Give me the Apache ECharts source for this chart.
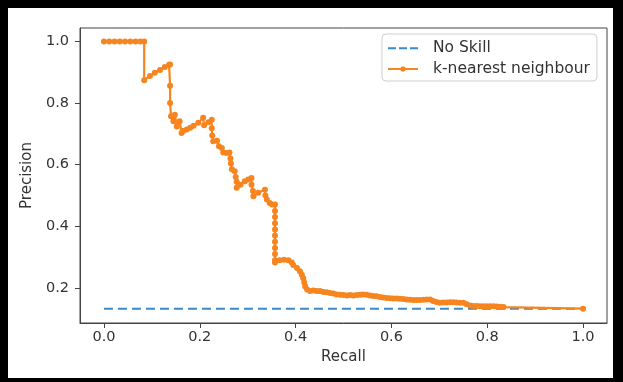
<!DOCTYPE html>
<html>
<head>
<meta charset="utf-8">
<script src="https://cdn.jsdelivr.net/npm/echarts@6/dist/echarts.min.js"></script>
<style>
html,body{margin:0;padding:0;background:#fff;}
#chart{width:623px;height:382px;}
</style>
</head>
<body>
<div id="chart"></div>
<script>
// ---- data ----
const seriesNames = ['No Skill', 'k-nearest neighbour'];

const noSkillRecall = [0, 1];
const noSkillPrecision = [0.133, 0.133];

const knnRecall = [
  0, 0.011, 0.022, 0.033, 0.044, 0.055, 0.066, 0.076, 0.084,
  0.084, 0.096, 0.106, 0.117, 0.127, 0.136,
  0.138, 0.138, 0.138, 0.14, 0.145, 0.148, 0.152, 0.158, 0.162, 0.166, 0.173, 0.18, 0.187, 0.197, 0.207,
  0.209, 0.218, 0.225, 0.225, 0.226, 0.228, 0.236, 0.24, 0.246, 0.249, 0.256, 0.262, 0.264, 0.265, 0.267,
  0.273, 0.275, 0.277, 0.277, 0.285, 0.294, 0.301, 0.308, 0.308, 0.311, 0.312, 0.322, 0.336, 0.337, 0.34,
  0.346, 0.351, 0.357,
  0.357, 0.357, 0.357, 0.357, 0.357, 0.357, 0.357, 0.357, 0.357, 0.357,
  0.367, 0.376, 0.385, 0.392, 0.395, 0.403, 0.409, 0.413, 0.416, 0.418, 0.42, 0.424, 0.43,
  0.437, 0.444, 0.451, 0.458, 0.465, 0.472, 0.479, 0.486, 0.493, 0.5, 0.507, 0.514, 0.521, 0.528,
  0.535, 0.541, 0.548, 0.555, 0.562, 0.569, 0.576, 0.583, 0.59, 0.597, 0.604, 0.611, 0.618, 0.625,
  0.632, 0.639, 0.646, 0.653, 0.66, 0.667, 0.674, 0.681, 0.687, 0.694, 0.701, 0.708, 0.715, 0.722,
  0.729, 0.736, 0.743, 0.75, 0.757, 0.764, 0.771, 0.778, 0.785, 0.792, 0.799, 0.806, 0.813, 0.82,
  0.827, 0.834, 1.0
];
const knnPrecision = [
  1, 1, 1, 1, 1, 1, 1, 1, 1,
  0.874, 0.888, 0.898, 0.907, 0.917, 0.924,
  0.925, 0.856, 0.8, 0.757, 0.741, 0.762, 0.724, 0.741, 0.703, 0.71, 0.714, 0.72, 0.726, 0.736, 0.752,
  0.728, 0.738, 0.746, 0.718, 0.695, 0.676, 0.678, 0.66, 0.654, 0.64, 0.638, 0.64, 0.62, 0.604, 0.585,
  0.579, 0.56, 0.545, 0.525, 0.535, 0.546, 0.552, 0.557, 0.535, 0.515, 0.498, 0.509, 0.519, 0.5, 0.487,
  0.476, 0.471, 0.471,
  0.45, 0.43, 0.41, 0.39, 0.37, 0.35, 0.33, 0.31, 0.29, 0.283,
  0.29, 0.292, 0.29, 0.283, 0.275, 0.265, 0.254, 0.243, 0.232, 0.218, 0.205, 0.195, 0.19,
  0.192, 0.19, 0.19, 0.187, 0.186, 0.184, 0.182, 0.179, 0.178, 0.177, 0.176, 0.177, 0.176, 0.177,
  0.178, 0.179, 0.178, 0.176, 0.174, 0.173, 0.171, 0.169, 0.168, 0.167, 0.166, 0.166, 0.165, 0.164,
  0.163, 0.162, 0.161, 0.161, 0.161, 0.162, 0.163, 0.163, 0.158, 0.155, 0.152, 0.153, 0.153, 0.154,
  0.154, 0.153, 0.152, 0.152, 0.147, 0.143, 0.142, 0.142, 0.141, 0.141, 0.141, 0.141, 0.141, 0.14,
  0.139, 0.138, 0.133
];

const xTicks = [0, 0.2, 0.4, 0.6, 0.8, 1.0];
const yTicks = [0.2, 0.4, 0.6, 0.8, 1.0];
const xLabel = 'Recall';
const yLabel = 'Precision';

// ---- chart ----
const chart = echarts.init(document.getElementById('chart'), null, {renderer: 'canvas'});
const font = 'DejaVu Sans';
const textColor = '#333';
const spine = '#444';
const blue = '#3a8bc8';
const orange = '#f7851f';

// legend icons (30 x 14 box): dashed line, and line with a dot
const dashIcon = 'path://M0,0M30,14M0,6.2h8v2h-8zM11,6.2h8v2h-8zM22,6.2h8v2h-8z';
const lineDotIcon = 'path://M0,0M30,14M0,6.1h30v1.8h-30zM17.8,7L17,9L15,9.8L13,9L12.2,7L13,5L15,4.2L17,5z';

const option = {
  animation: false,
  backgroundColor: '#fff',
  grid: {
    left: 80, right: 16, top: 28, bottom: 59,
    show: true, borderColor: spine, borderWidth: 1, backgroundColor: 'transparent'
  },
  legend: {
    orient: 'vertical',
    left: 382, top: 34,
    padding: [6, 7, 4, 6],
    itemWidth: 30, itemHeight: 14, itemGap: 5,
    borderColor: '#cfcfcf', borderWidth: 1, borderRadius: 4,
    backgroundColor: 'rgba(255,255,255,0.8)',
    textStyle: {fontFamily: font, fontSize: 15.5, color: textColor, padding: [0, 0, 0, 10]},
    data: [
      {name: seriesNames[0], icon: dashIcon},
      {name: seriesNames[1], icon: lineDotIcon}
    ]
  },
  xAxis: {
    type: 'value', min: -0.05, max: 1.05,
    name: xLabel, nameLocation: 'middle', nameGap: 26,
    nameTextStyle: {fontFamily: font, fontSize: 15, color: textColor},
    axisLine: {show: true, onZero: false, lineStyle: {color: spine, width: 1}},
    axisTick: {show: true, length: 5, customValues: xTicks, lineStyle: {color: spine}},
    axisLabel: {customValues: xTicks, margin: 7, fontFamily: font, fontSize: 14.5, color: textColor,
      formatter: v => v.toFixed(1)},
    splitLine: {show: false}
  },
  yAxis: {
    type: 'value', min: 0.0865, max: 1.0435,
    name: yLabel, nameLocation: 'middle', nameGap: 42,
    nameTextStyle: {fontFamily: font, fontSize: 15, color: textColor},
    axisLine: {show: true, onZero: false, lineStyle: {color: spine, width: 1}},
    axisTick: {show: true, length: 5, customValues: yTicks, lineStyle: {color: spine}},
    axisLabel: {customValues: yTicks, margin: 11, fontFamily: font, fontSize: 14.5, color: textColor,
      formatter: v => v.toFixed(1)},
    splitLine: {show: false}
  },
  series: [
    {
      name: seriesNames[0], type: 'line',
      data: noSkillRecall.map((r, i) => [r, noSkillPrecision[i]]),
      showSymbol: false, symbol: 'none',
      lineStyle: {color: blue, width: 2, type: [9, 5]},
      itemStyle: {color: blue}
    },
    {
      name: seriesNames[1], type: 'line',
      data: knnRecall.map((r, i) => [r, knnPrecision[i]]),
      symbol: 'circle', symbolSize: 6, showAllSymbol: true,
      lineStyle: {color: orange, width: 2.2},
      itemStyle: {color: orange}
    }
  ],
  graphic: [
    {type: 'rect', shape: {x: 0, y: 0, width: 623, height: 8}, style: {fill: '#000'}, z: 100},
    {type: 'rect', shape: {x: 0, y: 0, width: 8, height: 382}, style: {fill: '#000'}, z: 100},
    {type: 'rect', shape: {x: 613, y: 0, width: 10, height: 382}, style: {fill: '#000'}, z: 100},
    {type: 'rect', shape: {x: 0, y: 378, width: 623, height: 4}, style: {fill: '#000'}, z: 100}
  ]
};
chart.setOption(option);
</script>
</body>
</html>
